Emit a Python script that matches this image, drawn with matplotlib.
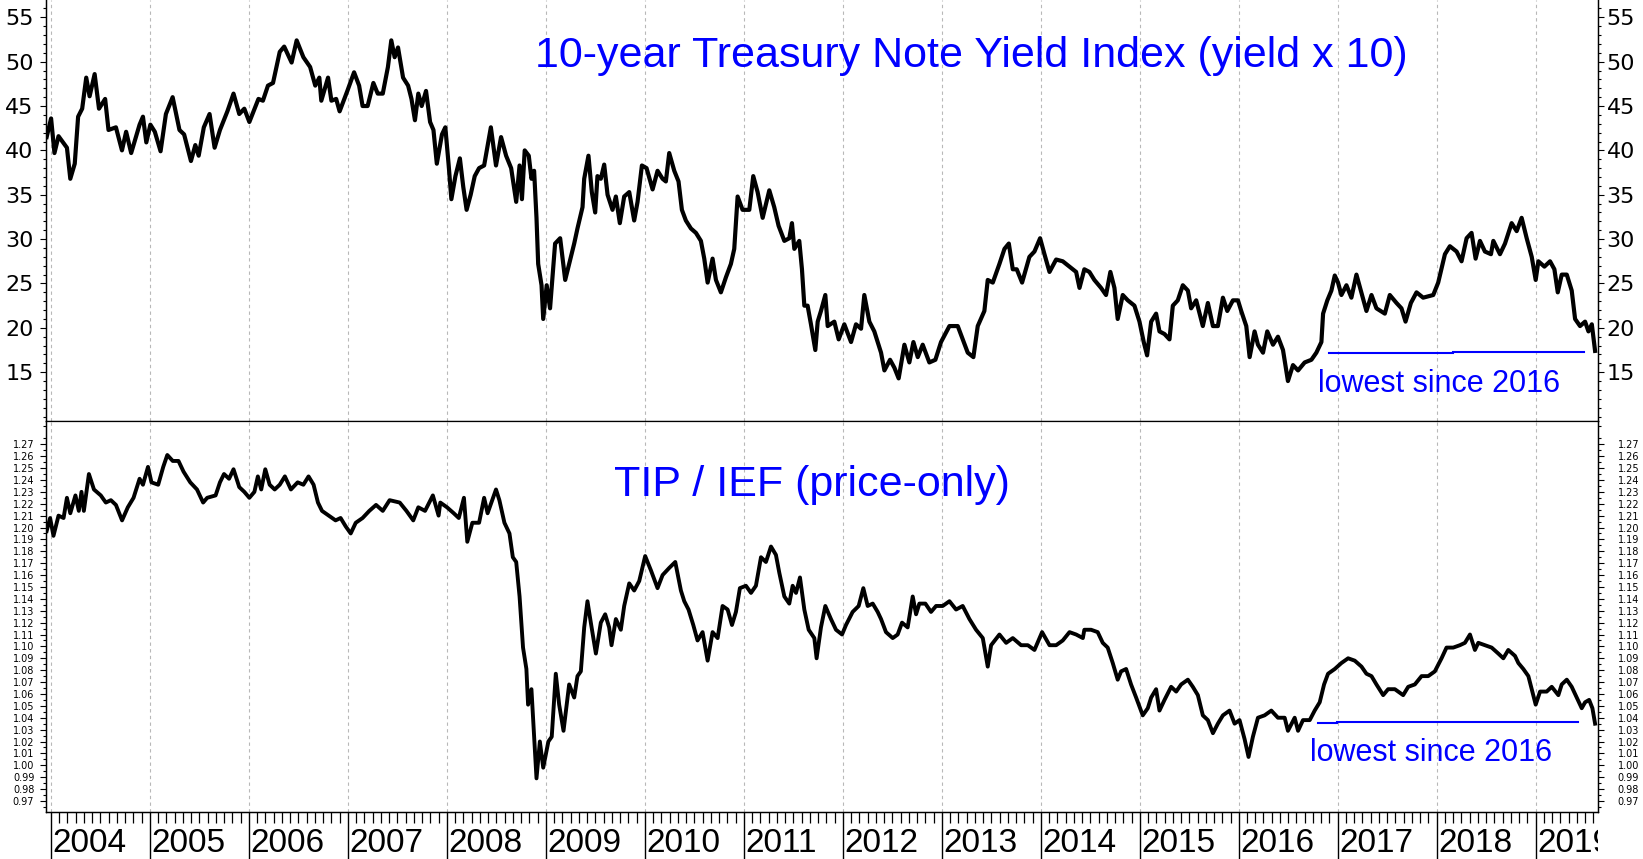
import matplotlib
matplotlib.use("Agg")
import matplotlib.pyplot as plt
import numpy as np
from matplotlib.ticker import FixedLocator, FormatStrFormatter
from matplotlib.transforms import Bbox, TransformedBbox


# 10-year Treasury note yield index (yield x 10), x in decimal years

yield_dates = [
    2003.956, 2004.001, 2004.035, 2004.076, 2004.161, 2004.195, 2004.240, 2004.274, 2004.315, 2004.356,
    2004.390, 2004.441, 2004.485, 2004.547, 2004.581, 2004.656, 2004.717, 2004.759, 2004.810, 2004.895,
    2004.929, 2004.963, 2005.004, 2005.049, 2005.107, 2005.161, 2005.229, 2005.298, 2005.345, 2005.414,
    2005.458, 2005.492, 2005.544, 2005.602, 2005.653, 2005.707, 2005.782, 2005.844, 2005.902, 2005.953,
    2006.004, 2006.096, 2006.141, 2006.192, 2006.243, 2006.311, 2006.356, 2006.431, 2006.482, 2006.550,
    2006.618, 2006.670, 2006.711, 2006.731, 2006.799, 2006.833, 2006.881, 2006.916, 2006.994, 2007.062,
    2007.113, 2007.148, 2007.199, 2007.257, 2007.301, 2007.352, 2007.404, 2007.438, 2007.472, 2007.506,
    2007.557, 2007.608, 2007.642, 2007.677, 2007.711, 2007.745, 2007.789, 2007.830, 2007.864, 2007.898,
    2007.950, 2007.984, 2008.018, 2008.045, 2008.086, 2008.131, 2008.165, 2008.199, 2008.240, 2008.281,
    2008.325, 2008.376, 2008.444, 2008.496, 2008.547, 2008.598, 2008.649, 2008.700, 2008.734, 2008.758,
    2008.786, 2008.827, 2008.854, 2008.881, 2008.905, 2008.922, 2008.956, 2008.973, 2009.008, 2009.042,
    2009.093, 2009.144, 2009.195,
    2009.235, 2009.286, 2009.319, 2009.370, 2009.387, 2009.430, 2009.464, 2009.498, 2009.521, 2009.555,
    2009.589, 2009.623, 2009.673, 2009.707, 2009.747, 2009.791, 2009.842, 2009.892, 2009.926, 2009.970,
    2010.017, 2010.078, 2010.128, 2010.179, 2010.212, 2010.246, 2010.297, 2010.340, 2010.374, 2010.414,
    2010.465, 2010.516, 2010.566, 2010.600, 2010.634, 2010.684, 2010.718, 2010.768, 2010.819, 2010.869,
    2010.903, 2010.937, 2010.987, 2011.055, 2011.095, 2011.139, 2011.190, 2011.257, 2011.307, 2011.351,
    2011.409, 2011.459, 2011.486, 2011.510, 2011.560, 2011.587, 2011.611, 2011.644, 2011.678, 2011.722,
    2011.746, 2011.779, 2011.823, 2011.847, 2011.914, 2011.958, 2012.015, 2012.083, 2012.133, 2012.184,
    2012.217, 2012.268, 2012.318, 2012.386, 2012.420, 2012.477, 2012.521, 2012.564, 2012.622, 2012.672,
    2012.713, 2012.757, 2012.807, 2012.874, 2012.935, 2012.992, 2013.077, 2013.161, 2013.211, 2013.262,
    2013.319, 2013.363, 2013.430, 2013.464, 2013.515, 2013.582, 2013.633, 2013.677, 2013.717, 2013.757,
    2013.811, 2013.885, 2013.936, 2013.993, 2014.037, 2014.088, 2014.155, 2014.222, 2014.290, 2014.357,
    2014.391,
    2014.440, 2014.491, 2014.541, 2014.609, 2014.659, 2014.703, 2014.744, 2014.777, 2014.828, 2014.879,
    2014.946, 2014.997, 2015.040, 2015.074, 2015.115, 2015.165, 2015.199, 2015.250, 2015.300, 2015.334,
    2015.384, 2015.435, 2015.486, 2015.519, 2015.570, 2015.637, 2015.688, 2015.739, 2015.789, 2015.840,
    2015.884, 2015.941, 2015.992, 2016.025, 2016.076, 2016.110, 2016.160, 2016.194, 2016.245, 2016.288,
    2016.346, 2016.396, 2016.447, 2016.497, 2016.548, 2016.599, 2016.666, 2016.734, 2016.784, 2016.835,
    2016.852, 2016.895, 2016.936, 2016.970, 2017.003, 2017.037, 2017.088, 2017.138, 2017.189, 2017.233,
    2017.290, 2017.341, 2017.391, 2017.476, 2017.526, 2017.594, 2017.644, 2017.685, 2017.739, 2017.796,
    2017.863, 2017.965, 2018.015, 2018.083, 2018.133, 2018.201, 2018.251, 2018.302, 2018.352, 2018.393,
    2018.437, 2018.487, 2018.548, 2018.572, 2018.639, 2018.690, 2018.757, 2018.808, 2018.858, 2018.909,
    2018.960, 2019.000, 2019.027, 2019.088, 2019.145, 2019.189, 2019.223, 2019.263, 2019.314, 2019.364,
    2019.398, 2019.448, 2019.499, 2019.533, 2019.567, 2019.600,
]
yield_vals = [
    41.5, 43.6, 39.7, 41.6, 40.3, 36.8, 38.5, 43.8, 44.7, 48.2,
    46.1, 48.6, 44.7, 45.8, 42.3, 42.6, 40.0, 42.1, 39.7, 42.9,
    43.8, 40.9, 42.9, 42.1, 39.9, 44.1, 46.0, 42.3, 41.8, 38.8,
    40.6, 39.4, 42.6, 44.1, 40.3, 42.3, 44.4, 46.4, 44.1, 44.7,
    43.2, 45.8, 45.6, 47.3, 47.6, 51.1, 51.7, 49.9, 52.4, 50.5,
    49.4, 47.3, 48.2, 45.6, 48.2, 45.6, 45.8, 44.4, 46.7, 48.8,
    47.3, 45.0, 45.0, 47.6, 46.4, 46.4, 49.4, 52.4, 50.5, 51.6,
    48.2, 47.3, 45.8, 43.4, 46.4, 45.0, 46.7, 43.2, 42.3, 38.5,
    41.8, 42.6, 38.3, 34.5, 37.1, 39.1, 35.9, 33.3, 35.0, 37.1,
    38.0, 38.3, 42.6, 38.3, 41.5, 39.4, 38.0, 34.2, 38.3, 34.5,
    40.0, 39.4, 36.8, 37.7, 32.4, 27.2, 24.8, 21.0, 24.8, 22.2,
    29.5, 30.1, 25.4,
    27.2, 29.5, 31.2, 33.6, 36.8, 39.4, 35.3, 33.0, 37.1, 36.8,
    38.4, 35.0, 33.3, 34.8, 31.8, 34.8, 35.3, 32.1, 34.2, 38.3,
    38.0, 35.6, 37.7, 36.8, 36.5, 39.7, 37.7, 36.5, 33.3, 32.1,
    31.2, 30.7, 29.8, 27.8, 25.1, 27.8, 25.4, 24.0, 25.7, 27.2,
    28.9, 34.8, 33.3, 33.3, 37.1, 35.3, 32.4, 35.5, 33.6, 31.5,
    29.8, 30.1, 31.8, 28.9, 29.8, 26.6, 22.5, 22.5, 20.4, 17.5,
    20.7, 21.9, 23.7, 20.2, 20.7, 18.7, 20.4, 18.4, 20.4, 19.9,
    23.7, 20.7, 19.6, 17.2, 15.2, 16.4, 15.5, 14.3, 18.1, 16.1,
    18.4, 16.7, 18.1, 16.1, 16.4, 18.4, 20.2, 20.2, 18.7, 17.2,
    16.7, 20.2, 21.9, 25.4, 25.1, 27.2, 28.9, 29.5, 26.6, 26.6,
    25.1, 28.0, 28.6, 30.1, 28.3, 26.3, 27.7, 27.5, 26.9, 26.3,
    24.5,
    26.6, 26.3, 25.4, 24.5, 23.7, 26.3, 24.5, 21.0, 23.7, 23.1,
    22.5, 20.7, 18.4, 16.9, 20.7, 21.6, 19.6, 19.3, 18.7, 22.5,
    23.1, 24.8, 24.2, 22.2, 23.1, 20.2, 22.8, 20.2, 20.2, 23.4,
    21.9, 23.1, 23.1, 21.9, 20.2, 16.7, 19.6, 18.1, 17.2, 19.6,
    18.1, 19.0, 17.5, 14.0, 15.8, 15.2, 16.1, 16.4, 17.2, 18.4,
    21.6, 23.1, 24.2, 25.9, 25.1, 23.7, 24.8, 23.4, 26.0, 24.2,
    21.9, 23.7, 22.2, 21.6, 23.7, 22.8, 22.2, 20.7, 22.8, 24.0,
    23.4, 23.7, 25.1, 28.3, 29.2, 28.6, 27.5, 30.1, 30.7, 27.8,
    29.8, 28.6, 28.3, 29.8, 28.3, 29.5, 31.8, 30.9, 32.4, 30.1,
    28.0, 25.4, 27.5, 26.9, 27.5, 26.6, 24.0, 26.0, 26.0, 24.2,
    21.0, 20.2, 20.7, 19.6, 20.4, 17.4,
]

# TIP / IEF price ratio

ratio_dates = [
    2003.956, 2003.991, 2004.025, 2004.076, 2004.127, 2004.161, 2004.195, 2004.247, 2004.281, 2004.308,
    2004.332, 2004.383, 2004.434, 2004.503, 2004.554, 2004.605, 2004.656, 2004.718, 2004.776, 2004.834,
    2004.895, 2004.929, 2004.980, 2005.015, 2005.083, 2005.134, 2005.175, 2005.230, 2005.288, 2005.339,
    2005.407, 2005.475, 2005.537, 2005.578, 2005.663, 2005.707, 2005.748, 2005.799, 2005.844, 2005.902,
    2005.953, 2006.004, 2006.055, 2006.090, 2006.124, 2006.165, 2006.209, 2006.260, 2006.311, 2006.363,
    2006.424, 2006.492, 2006.550, 2006.602, 2006.653, 2006.697, 2006.738, 2006.806, 2006.875, 2006.926,
    2006.977, 2007.028, 2007.079, 2007.148, 2007.216, 2007.284, 2007.352, 2007.421, 2007.523, 2007.591,
    2007.660, 2007.711, 2007.779, 2007.858, 2007.916, 2007.933, 2008.001, 2008.069, 2008.120, 2008.172,
    2008.206, 2008.257, 2008.325, 2008.376, 2008.411, 2008.496, 2008.530, 2008.581, 2008.632, 2008.666,
    2008.700, 2008.734, 2008.769, 2008.803, 2008.820, 2008.854, 2008.881, 2008.905, 2008.939, 2008.973,
    2009.025, 2009.059, 2009.100, 2009.134, 2009.178,
    2009.235, 2009.286, 2009.319, 2009.353, 2009.387, 2009.420, 2009.454, 2009.505, 2009.555, 2009.599,
    2009.639, 2009.663, 2009.707, 2009.757, 2009.791, 2009.842, 2009.892, 2009.943, 2010.003, 2010.061,
    2010.128, 2010.179, 2010.246, 2010.307, 2010.364, 2010.398, 2010.441, 2010.489, 2010.532, 2010.583,
    2010.634, 2010.684, 2010.735, 2010.785, 2010.836, 2010.880, 2010.920, 2010.960, 2011.021, 2011.072,
    2011.122, 2011.173, 2011.223, 2011.274, 2011.324, 2011.358, 2011.409, 2011.459, 2011.493, 2011.527,
    2011.567, 2011.611, 2011.655, 2011.712, 2011.735, 2011.779, 2011.823, 2011.880, 2011.931, 2011.992,
    2012.032, 2012.099, 2012.160, 2012.207, 2012.251, 2012.302, 2012.352, 2012.386, 2012.436, 2012.504,
    2012.554, 2012.598, 2012.655, 2012.706, 2012.740, 2012.773, 2012.834, 2012.891, 2012.942, 2013.009,
    2013.077, 2013.144, 2013.211, 2013.279, 2013.346, 2013.414, 2013.464, 2013.498, 2013.582, 2013.650,
    2013.717, 2013.801, 2013.869, 2013.936, 2014.013, 2014.088, 2014.155, 2014.222, 2014.290, 2014.357,
    2014.425,
    2014.440, 2014.508, 2014.575, 2014.626, 2014.676, 2014.727, 2014.777, 2014.811, 2014.862, 2014.912,
    2014.963, 2015.030, 2015.081, 2015.115, 2015.165, 2015.199, 2015.250, 2015.317, 2015.368, 2015.418,
    2015.486, 2015.536, 2015.587, 2015.637, 2015.688, 2015.739, 2015.789, 2015.840, 2015.907, 2015.958,
    2016.008, 2016.059, 2016.099, 2016.143, 2016.194, 2016.261, 2016.329, 2016.396, 2016.464, 2016.497,
    2016.565, 2016.599, 2016.649, 2016.717, 2016.767, 2016.818, 2016.862, 2016.902, 2016.970, 2017.037,
    2017.105, 2017.172, 2017.240, 2017.290, 2017.341, 2017.391, 2017.459, 2017.509, 2017.577, 2017.661,
    2017.712, 2017.779, 2017.847, 2017.914, 2017.981, 2018.049, 2018.099, 2018.167, 2018.234, 2018.285,
    2018.336, 2018.386, 2018.420, 2018.487, 2018.555, 2018.622, 2018.673, 2018.723, 2018.791, 2018.825,
    2018.875, 2018.926, 2018.960, 2019.000, 2019.044, 2019.111, 2019.162, 2019.229, 2019.263, 2019.314,
    2019.364, 2019.415, 2019.465, 2019.499, 2019.540, 2019.573, 2019.600,
]
ratio_vals = [
    1.197, 1.208, 1.193, 1.210, 1.208, 1.225, 1.212, 1.227, 1.214, 1.230,
    1.214, 1.245, 1.232, 1.227, 1.221, 1.223, 1.219, 1.206, 1.217, 1.225,
    1.241, 1.236, 1.251, 1.238, 1.236, 1.251, 1.261, 1.256, 1.256, 1.247,
    1.238, 1.232, 1.221, 1.225, 1.227, 1.238, 1.245, 1.241, 1.249, 1.234,
    1.230, 1.225, 1.230, 1.243, 1.232, 1.249, 1.236, 1.232, 1.236, 1.243,
    1.232, 1.238, 1.236, 1.243, 1.236, 1.221, 1.214, 1.210, 1.206, 1.208,
    1.201, 1.195, 1.204, 1.208, 1.214, 1.219, 1.214, 1.223, 1.221, 1.214,
    1.206, 1.217, 1.214, 1.227, 1.210, 1.221, 1.217, 1.212, 1.208, 1.225,
    1.188, 1.204, 1.204, 1.225, 1.212, 1.232, 1.223, 1.204, 1.195, 1.175,
    1.171, 1.142, 1.099, 1.081, 1.051, 1.064, 1.024, 0.989, 1.020, 0.998,
    1.020, 1.024, 1.077, 1.051, 1.029,
    1.068, 1.057, 1.075, 1.079, 1.116, 1.138, 1.120, 1.094, 1.120, 1.127,
    1.116, 1.101, 1.123, 1.114, 1.134, 1.153, 1.147, 1.155, 1.176, 1.164,
    1.149, 1.160, 1.166, 1.171, 1.147, 1.138, 1.131, 1.118, 1.105, 1.112,
    1.088, 1.112, 1.107, 1.134, 1.131, 1.118, 1.129, 1.149, 1.151, 1.145,
    1.151, 1.175, 1.171, 1.184, 1.177, 1.162, 1.142, 1.136, 1.151, 1.145,
    1.158, 1.131, 1.114, 1.107, 1.090, 1.116, 1.134, 1.123, 1.114, 1.110,
    1.118, 1.129, 1.134, 1.149, 1.134, 1.136, 1.129, 1.123, 1.112, 1.107,
    1.110, 1.120, 1.116, 1.142, 1.127, 1.136, 1.136, 1.129, 1.134, 1.134,
    1.138, 1.131, 1.134, 1.123, 1.114, 1.107, 1.083, 1.101, 1.110, 1.103,
    1.107, 1.101, 1.101, 1.097, 1.112, 1.101, 1.101, 1.105, 1.112, 1.110,
    1.107,
    1.114, 1.114, 1.112, 1.103, 1.099, 1.086, 1.072, 1.079, 1.081, 1.068,
    1.057, 1.042, 1.048, 1.057, 1.064, 1.046, 1.055, 1.066, 1.062, 1.068,
    1.072, 1.066, 1.059, 1.042, 1.038, 1.027, 1.035, 1.042, 1.046, 1.035,
    1.038, 1.022, 1.007, 1.024, 1.040, 1.042, 1.046, 1.040, 1.040, 1.029,
    1.040, 1.029, 1.038, 1.038, 1.046, 1.053, 1.068, 1.077, 1.081, 1.086,
    1.090, 1.088, 1.083, 1.077, 1.075, 1.068, 1.059, 1.064, 1.064, 1.059,
    1.066, 1.068, 1.075, 1.075, 1.079, 1.090, 1.099, 1.099, 1.101, 1.103,
    1.110, 1.097, 1.103, 1.101, 1.099, 1.094, 1.090, 1.097, 1.092, 1.086,
    1.081, 1.075, 1.064, 1.051, 1.062, 1.062, 1.066, 1.059, 1.068, 1.072,
    1.066, 1.057, 1.048, 1.053, 1.055, 1.048, 1.035,
]

years = list(range(2004, 2020))
yield_ticks = [15, 20, 25, 30, 35, 40, 45, 50, 55]
ratio_ticks = [round(0.97 + 0.01 * i, 2) for i in range(31)]

# "lowest since 2016" reference lines: (start, end, level)
yield_low_segs = [(2016.912, 2018.160, 17.22), (2018.160, 2019.492, 17.30)]
ratio_low_segs = [(2016.801, 2016.990, 1.0354), (2016.990, 2019.425, 1.0367)]

BLUE = "#0000ff"
XMIN, XMAX = 2003.9465, 2019.6295

fig = plt.figure(figsize=(16.43, 8.59), dpi=100)
L, R = 45.7 / 1643, 1598 / 1643
ax1 = fig.add_axes([L, (859 - 421) / 859, R - L, 421 / 859])
ax2 = fig.add_axes([L, (859 - 812) / 859, R - L, 391 / 859])


def style_y(ax, lim, major, minor, fmt, size, pad_l, pad_r, family):
    ax.set_xlim(XMIN, XMAX)
    ax.set_ylim(*lim)
    ax.yaxis.set_major_locator(FixedLocator(major))
    ax.yaxis.set_minor_locator(FixedLocator(minor))
    ax.yaxis.set_major_formatter(FormatStrFormatter(fmt))
    ax.tick_params(axis="y", which="major", length=4.3, width=0.8, pad=pad_l,
                   labelsize=size, direction="out")
    ax.tick_params(axis="y", which="minor", length=2.2, width=0.8, direction="out")
    for lab in ax.get_yticklabels():
        lab.set_family(family)
    axr = ax.twinx()
    axr.set_ylim(*lim)
    axr.yaxis.set_major_locator(FixedLocator(major))
    axr.yaxis.set_minor_locator(FixedLocator(minor))
    axr.yaxis.set_major_formatter(FormatStrFormatter(fmt))
    axr.tick_params(axis="y", which="major", length=4.3, width=0.8, pad=pad_r,
                    labelsize=size, direction="out")
    axr.tick_params(axis="y", which="minor", length=2.2, width=0.8, direction="out")
    for lab in axr.get_yticklabels():
        lab.set_family(family)
    for a in (ax, axr):
        a.spines["top"].set_visible(False)
        for s in a.spines.values():
            s.set_linewidth(0.9)
    return axr


# top panel
style_y(ax1, (9.5, 56.95), yield_ticks, np.arange(10, 57, 1), "%d", 16,
        4.5, 2.0, "DejaVu Sans")
ax1.tick_params(axis="x", which="both", bottom=False, labelbottom=False)
for y in years:
    ax1.axvline(y, color="#b8b8b8", lw=0.8, ls=(0, (3, 3)), zorder=0)
ax1.plot(yield_dates, yield_vals, color="black", lw=3.0, solid_joinstyle="round")
for x0, x1, lv in yield_low_segs:
    ax1.plot([x0, x1], [lv, lv], color=BLUE, lw=1.5)
ax1.text(0.3152, 0.8416, "10-year Treasury Note Yield Index (yield x 10)",
         transform=ax1.transAxes, fontsize=31, color=BLUE, family="Liberation Sans",
         ha="left", va="baseline")
ax1.text(0.8196, 0.0696, "lowest since 2016", transform=ax1.transAxes,
         fontsize=22, color=BLUE, family="Liberation Sans", ha="left", va="baseline")

# bottom panel
style_y(ax2, (0.9607, 1.2896), ratio_ticks,
        [round(0.965 + 0.01 * i, 3) for i in range(33)], "%.2f", 7,
        3.9, 10, "DejaVu Sans")
for y in years:
    ax2.axvline(y, color="#b8b8b8", lw=0.8, ls=(0, (3, 3)), zorder=0)
ax2.plot(ratio_dates, ratio_vals, color="black", lw=2.8, solid_joinstyle="round")
for x0, x1, lv in ratio_low_segs:
    ax2.plot([x0, x1], [lv, lv], color=BLUE, lw=1.5)
ax2.text(0.3661, 0.809, "TIP / IEF (price-only)", transform=ax2.transAxes,
         fontsize=31, color=BLUE, family="Liberation Sans", ha="left", va="baseline")
ax2.text(0.8145, 0.1304, "lowest since 2016", transform=ax2.transAxes,
         fontsize=22, color=BLUE, family="Liberation Sans", ha="left", va="baseline")

# x axis: long year ticks, monthly minor ticks, year labels
month_ticks = [y + m / 12 for y in range(2003, 2020) for m in range(1, 12)
               if XMIN < y + m / 12 < XMAX]
ax2.xaxis.set_major_locator(FixedLocator(years))
ax2.xaxis.set_minor_locator(FixedLocator(month_ticks))
ax2.tick_params(axis="x", which="major", length=34, width=1.0, direction="out",
                labelbottom=False)
ax2.tick_params(axis="x", which="minor", length=8, width=0.9, direction="out")

clip = TransformedBbox(Bbox.from_extents(0, 0, R, 1), fig.transFigure)
for y in years:
    t = ax2.text(y + 0.012, -0.1035, str(y), transform=ax2.get_xaxis_transform(),
                 fontsize=24, family="Liberation Sans", ha="left", va="baseline",
                 clip_on=True)
    t.set_clip_box(clip)

fig.savefig("out.png", dpi=100)
